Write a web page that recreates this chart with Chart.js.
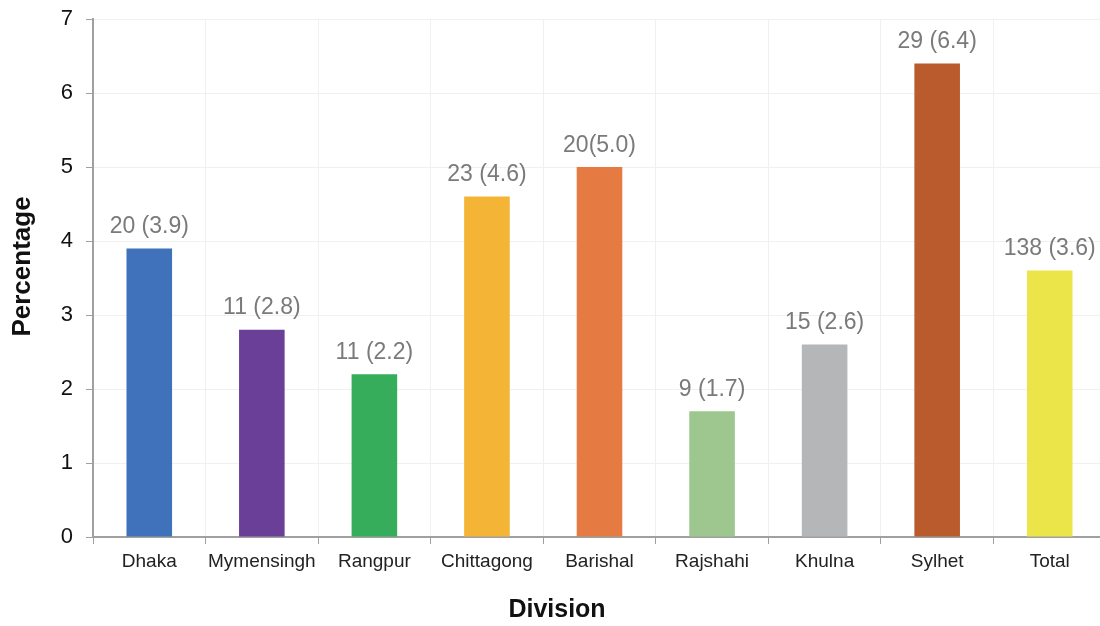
<!DOCTYPE html>
<html>
<head>
<meta charset="utf-8">
<script src="https://cdn.jsdelivr.net/npm/chart.js@4/dist/chart.umd.min.js"></script>
<style>
  html, body { margin: 0; padding: 0; background: #fff; overflow: hidden; }
  #wrap { width: 1106px; height: 626px; }
</style>
</head>
<body>
<div id="wrap"><canvas id="myChart"></canvas></div>
<script>
// veriler
const divisions = ['Dhaka', 'Mymensingh', 'Rangpur', 'Chittagong', 'Barishal', 'Rajshahi', 'Khulna', 'Sylhet', 'Total'];
const percentages = [3.9, 2.8, 2.2, 4.6, 5.0, 1.7, 2.6, 6.4, 3.6];
const barLabels = ['20 (3.9)', '11 (2.8)', '11 (2.2)', '23 (4.6)', '20(5.0)', '9 (1.7)', '15 (2.6)', '29 (6.4)', '138 (3.6)'];
const barColors = ['#3f72ba', '#6a3f98', '#36ad5b', '#f4b436', '#e57a42', '#9dc78e', '#b5b6b8', '#ba5b2d', '#ebe54a'];
const xTitle = 'Division';
const yTitle = 'Percentage';

const fontFamily = '"Liberation Sans", Arial, sans-serif';

// bar üstü etiketler ve eksen başlıkları
const labelPlugin = {
  id: 'barLabels',
  afterDatasetsDraw(chart) {
    const ctx = chart.ctx;
    const meta = chart.getDatasetMeta(0);
    ctx.save();
    ctx.font = '23px ' + fontFamily;
    ctx.fillStyle = '#7a7a7a';
    ctx.textAlign = 'center';
    ctx.textBaseline = 'alphabetic';
    meta.data.forEach((bar, i) => {
      ctx.fillText(barLabels[i], bar.x, bar.y - 15.5);
    });

    // eksen başlıkları (orijinalde tam ortalı değil)
    ctx.fillStyle = '#111';
    ctx.textBaseline = 'middle';
    ctx.font = 'bold 25px ' + fontFamily;
    ctx.fillText(xTitle, 557, 610);
    ctx.translate(23, 266.5);
    ctx.rotate(-Math.PI / 2);
    ctx.font = 'bold 26px ' + fontFamily;
    ctx.fillText(yTitle, 0, 0);
    ctx.restore();
  }
};

const ctx = document.getElementById('myChart').getContext('2d');
new Chart(ctx, {
  type: 'bar',
  data: {
    labels: divisions,
    datasets: [{
      data: percentages,
      backgroundColor: barColors,
      borderWidth: 0,
      barPercentage: 0.405,
      categoryPercentage: 1
    }]
  },
  options: {
    responsive: true,
    maintainAspectRatio: false,
    animation: false,
    layout: { padding: 0 },
    plugins: { legend: { display: false }, tooltip: { enabled: false } },
    scales: {
      x: {
        grid: { color: '#f0f0f0', tickColor: '#a0a0a0', tickLength: 7, offset: true },
        border: { color: '#a0a0a0', width: 2 },
        ticks: { color: '#222', font: { family: fontFamily, size: 19 }, padding: 6, maxRotation: 0, autoSkip: false },
        afterFit: (s) => { s.height = 89; }
      },
      y: {
        min: 0, max: 7,
        grid: { color: '#f0f0f0', tickColor: '#a0a0a0', tickLength: 7 },
        border: { color: '#a0a0a0', width: 2 },
        ticks: { stepSize: 1, color: '#111', font: { family: fontFamily, size: 22 }, padding: 13 },
        afterFit: (s) => { s.width = 93; s.paddingTop = 19; }
      }
    }
  },
  plugins: [labelPlugin]
});
</script>
</body>
</html>
